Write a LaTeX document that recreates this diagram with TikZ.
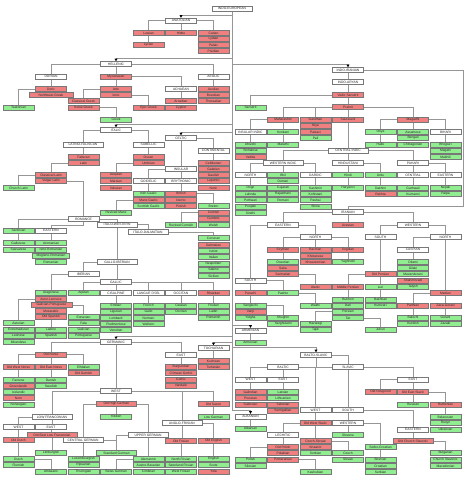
\documentclass[tikz,border=0pt]{standalone}
\usepackage{fontspec}
\setmainfont{Liberation Sans}
\usetikzlibrary{arrows.meta}
\definecolor{extred}{RGB}{240,128,128}
\definecolor{livgreen}{RGB}{144,238,144}
\definecolor{bordergray}{RGB}{120,120,120}
\definecolor{linegray}{RGB}{150,150,150}
\pgfdeclarelayer{back}\pgfdeclarelayer{bg}\pgfsetlayers{back,bg,main}
\newcommand\nbox[5]{\node[#1] (#2) at (#3,#4) {#5};}
\newcommand\cdn[2]{\draw[conn] (#1.south) -- (#1.south |- #2.north);}
\newcommand\clf[2]{\draw[conn] (#1.west) -| (#2.north);}
\newcommand\crt[2]{\draw[conn] (#1.east) -| (#2.north);}
\newcommand\famline[2]{\draw[conn,famarrow] (IE.south |- 0,#1) -| (#2.north);}
\begin{document}
\begin{tikzpicture}[x=1pt,y=-1pt,
 box/.style={draw=bordergray,line width=0.6pt,minimum width=31pt,minimum height=4.8pt,inner sep=0pt,font=\fontsize{3.3}{3.6}\selectfont,text=black!85},
 ext/.style={box,fill=extred},
 liv/.style={box,fill=livgreen},
 grp/.style={box,fill=white},
 wd/.style={minimum width=40pt},
 conn/.style={draw=linegray,line width=0.8pt},
 famarrow/.style={-{Triangle[length=2.6pt,width=2.8pt,color=black]}}]
\begin{pgfonlayer}{back}
\fill[white] (0,0) rectangle (464,479);
\end{pgfonlayer}
\useasboundingbox (0,0) rectangle (464,479);
% ---------------- ANATOLIAN
\nbox{grp,wd}{IE}{232}{8.5}{INDO-EUROPEAN}
\nbox{grp}{ANAT}{181}{20.5}{ANATOLIAN}
\nbox{ext}{luwian}{148.5}{33}{Luwian}
\nbox{ext}{hittite}{181}{33}{Hittite}
\nbox{ext}{carian}{213.5}{33}{Carian}
\nbox{ext}{lydian}{213.5}{39}{Lydian}
\nbox{ext}{palaic}{213.5}{45}{Palaic}
\nbox{ext}{pisidian}{213.5}{51}{Pisidian}
\nbox{ext}{lycian}{148.5}{45}{Lycian}
% ---------------- HELLENIC
\nbox{grp}{HEL}{116}{64}{HELLENIC}
\nbox{grp}{DOR}{51}{76.5}{DORIAN}
\nbox{ext}{myc}{116}{76.5}{Mycenaean}
\nbox{grp}{AEOL}{213.5}{76.5}{AEOLIC}
\nbox{ext}{doric}{51}{89}{Doric}
\nbox{ext,minimum width=44pt}{nwgreek}{51}{95}{Northwest Greek}
\nbox{ext}{attic}{116}{89}{Attic}
\nbox{ext}{ionic}{116}{95}{Ionic}
\nbox{grp}{ACH}{181}{89}{ACHAEAN}
\nbox{ext}{aeolian}{213.5}{89}{Aeolian}
\nbox{ext}{boeotian}{213.5}{95}{Boeotian}
\nbox{ext}{thessalian}{213.5}{101}{Thessalian}
\nbox{ext}{classical}{83.5}{101}{Classical Greek}
\nbox{ext}{koine}{83.5}{107.5}{Koine Greek}
\nbox{ext}{arcadian}{181}{101}{Arcadian}
\nbox{ext}{cypriot}{181}{107.5}{Cypriot}
\nbox{ext}{epic}{148.5}{107.5}{Epic Greek}
\nbox{liv}{tsakonian}{18.5}{107.5}{Tsakonian}
\nbox{liv}{greek}{116}{119.5}{Greek}
% ---------------- ITALIC
\nbox{grp}{ITA}{116}{130}{ITALIC}
\nbox{grp,wd}{LATF}{83}{144.5}{LATINO-FALISCAN}
\nbox{grp}{SAB}{148.5}{144.5}{SABELLIC}
\nbox{ext}{faliscan}{83.5}{157}{Faliscan}
\nbox{ext}{latin}{83.5}{163}{Latin}
\nbox{ext}{oscan}{148.5}{157}{Oscan}
\nbox{ext}{umbrian}{148.5}{163}{Umbrian}
\nbox{ext}{classlatin}{51}{175}{Classical Latin}
\nbox{ext}{vulglatin}{51}{181}{Vulgar Latin}
\nbox{ext}{aequian}{116}{175}{Aequian}
\nbox{ext}{marsian}{116}{181}{Marsian}
\nbox{ext}{volscian}{116}{188}{Volscian}
\nbox{liv}{churchlatin}{18.5}{188}{Church Latin}
% ---------------- CELTIC
\nbox{grp}{CEL}{181}{138}{CELTIC}
\nbox{grp}{CONT}{213.5}{150.5}{CONTINENTAL}
\nbox{grp}{INS}{181}{169}{INSULAR}
\nbox{ext}{celtiberian}{213.5}{163}{Celtiberian}
\nbox{ext}{galatian}{213.5}{169}{Galatian}
\nbox{ext}{gaulish}{213.5}{175}{Gaulish}
\nbox{ext}{lepontic}{213.5}{181}{Lepontic}
\nbox{ext}{noric}{213.5}{188}{Noric}
\nbox{grp}{GOID}{148.5}{181}{GOIDELIC}
\nbox{grp}{BRY}{181}{181}{BRYTHONIC}
\nbox{liv}{irish}{148.5}{193.5}{Irish Gaelic}
\nbox{ext}{manx}{148.5}{200}{Manx Gaelic}
\nbox{liv}{scottish}{148.5}{206}{Scottish Gaelic}
\nbox{liv}{revmanx}{116}{212.5}{Revived Manx}
\nbox{ext}{british}{181}{193.5}{British}
\nbox{ext}{ivernic}{181}{200}{Ivernic}
\nbox{ext}{pictish}{181}{206}{Pictish}
\nbox{liv}{breton}{213.5}{206}{Breton}
\nbox{ext}{cornish}{213.5}{212.5}{Cornish}
\nbox{ext}{cumbric}{213.5}{218.5}{Cumbric}
\nbox{liv}{welsh}{213.5}{225}{Welsh}
\nbox{liv}{revcornish}{181}{225}{Revived Cornish}
% ---------------- ROMANCE
\nbox{grp}{ROM}{83.5}{219}{ROMANCE}
\nbox{grp,wd}{ITW}{117}{224.5}{ITALO-WESTERN}
\nbox{grp,wd}{ITD}{148}{232}{ITALO-DALMATIAN}
\nbox{liv}{sardinian}{18.5}{230.5}{Sardinian}
\nbox{grp}{EASTR}{51}{230.5}{EASTERN}
\nbox{liv}{gallurese}{18.5}{243}{Gallurese}
\nbox{liv}{sassarese}{18.5}{249.5}{Sassarese}
\nbox{liv}{aromanian}{51}{243}{Aromanian}
\nbox{liv}{istrorom}{51}{249.5}{Istro-Romanian}
\nbox{liv,minimum width=37pt}{meglenorom}{51}{256}{Megleno-Romanian}
\nbox{liv}{romanian}{51}{262}{Romanian}
\nbox{liv}{corsican}{213.5}{238}{Corsican}
\nbox{ext}{dalmatian}{213.5}{245}{Dalmatian}
\nbox{liv}{istriot}{213.5}{251}{Istriot}
\nbox{liv}{italian}{213.5}{257}{Italian}
\nbox{liv}{neapolitan}{213.5}{263.5}{Neapolitan}
\nbox{liv}{sabino}{213.5}{269.5}{Sabino}
\nbox{liv}{sicilian}{213.5}{276}{Sicilian}
\nbox{grp,wd}{GIB}{117}{262}{GALLO-IBERIAN}
\nbox{grp}{IBR}{83.5}{274}{IBERIAN}
\nbox{grp}{GAL}{116}{282}{GALLIC}
\nbox{grp}{CIS}{116}{293}{CISALPINE}
\nbox{grp}{OIL}{148.5}{293}{LANGUE D'OÏL}
\nbox{grp}{OCC}{181}{293}{OCCITAN}
\nbox{ext}{rhaetian}{213.5}{293}{Rhaetian}
\nbox{liv}{arpitan}{83.5}{293}{Arpitan}
\nbox{liv}{aragonese}{51}{293}{Aragonese}
\nbox{ext}{asturleonese}{51}{299}{Astur-Leonese}
\nbox{ext,minimum width=41pt}{galport}{51.5}{305}{Galician-Portuguese}
\nbox{ext}{mozarabic}{51}{311}{Mozarabic}
\nbox{ext}{oldspanish}{51}{317}{Old Spanish}
\nbox{liv}{emilian}{116}{305.5}{Emilian}
\nbox{liv}{ligurian}{116}{311.5}{Ligurian}
\nbox{liv}{lombard}{116}{318}{Lombard}
\nbox{liv}{piedmontese}{116}{324}{Piedmontese}
\nbox{liv}{venetian}{116}{330}{Venetian}
\nbox{liv}{french}{148.5}{305.5}{French}
\nbox{liv}{gallo}{148.5}{311.5}{Gallo}
\nbox{liv}{norman}{148.5}{318}{Norman}
\nbox{liv}{walloon}{148.5}{324}{Walloon}
\nbox{liv}{catalan}{181}{305.5}{Catalan}
\nbox{liv}{occitanl}{181}{311.5}{Occitan}
\nbox{liv}{friulian}{213.5}{305.5}{Friulian}
\nbox{liv}{ladin}{213.5}{311.5}{Ladin}
\nbox{liv}{romansh}{213.5}{317.5}{Romansh}
\nbox{liv}{asturian}{18.5}{323}{Asturian}
\nbox{liv}{extremaduran}{18.5}{329.5}{Extremaduran}
\nbox{liv}{leonese}{18.5}{335.5}{Leonese}
\nbox{liv}{mirandese}{18.5}{342}{Mirandese}
\nbox{liv}{eonavian}{83.5}{317}{Eonavian}
\nbox{liv}{fala}{83.5}{323}{Fala}
\nbox{liv}{galician}{83.5}{329.5}{Galician}
\nbox{liv}{portuguese}{83.5}{335.5}{Portuguese}
\nbox{liv}{ladino}{51}{329.5}{Ladino}
\nbox{liv}{spanish}{51}{335.5}{Spanish}
% ---------------- GERMANIC
\nbox{grp}{GER}{116}{342}{GERMANIC}
\nbox{ext}{oldnorse}{51}{354.5}{Old Norse}
\nbox{grp}{EASTG}{181}{355}{EAST}
\nbox{grp}{TOCH}{213.5}{348}{TOCHARIAN}
\nbox{ext}{kuchean}{213.5}{361}{Kuchean}
\nbox{ext}{turfanian}{213.5}{367}{Turfanian}
\nbox{ext}{owns}{18.5}{367}{Old West Norse}
\nbox{ext}{oens}{51}{367}{Old East Norse}
\nbox{liv}{elfdalian}{83.5}{367}{Elfdalian}
\nbox{ext}{oldgutnish}{83.5}{373}{Old Gutnish}
\nbox{liv}{faroese}{18.5}{380}{Faroese}
\nbox{ext}{greenlandic}{18.5}{386}{Greenlandic}
\nbox{liv}{icelandic}{18.5}{392}{Icelandic}
\nbox{ext}{norn}{18.5}{398}{Norn}
\nbox{liv}{norwegian}{18.5}{404.5}{Norwegian}
\nbox{liv}{danish}{51}{380}{Danish}
\nbox{liv}{swedish}{51}{386}{Swedish}
\nbox{ext}{burgundian}{181}{367}{Burgundian}
\nbox{ext}{crimeangothic}{181}{373}{Crimean Gothic}
\nbox{ext}{gothic}{181}{379.5}{Gothic}
\nbox{ext}{vandalic}{181}{385.5}{Vandalic}
\nbox{grp}{WESTG}{116}{391}{WEST}
\nbox{ext,wd}{ohg}{116.5}{404}{Old High German}
\nbox{ext}{oldsaxon}{213.5}{404}{Old Saxon}
\nbox{liv}{lowgerman}{213.5}{417}{Low German}
\nbox{liv}{yiddish}{116}{416.5}{Yiddish}
\nbox{grp,wd}{LFR}{52}{417}{LOW FRANCONIAN}
\nbox{grp,wd}{ANGF}{182}{423}{ANGLO-FRISIAN}
\nbox{grp}{LFW}{18.5}{427}{WEST}
\nbox{grp}{LFE}{51}{427}{EAST}
\nbox{ext,minimum width=50pt}{oelf}{52}{435}{Old East Low Franconian}
\nbox{ext}{olddutch}{18.5}{440}{Old Dutch}
\nbox{grp,wd}{UPG}{148}{435}{UPPER GERMAN}
\nbox{grp,wd}{CNG}{83}{440}{CENTRAL GERMAN}
\nbox{ext}{oldfrisian}{181}{441}{Old Frisian}
\nbox{ext}{oldenglish}{213.5}{441}{Old English}
\nbox{liv,wd}{stdgerman}{116.5}{453}{Standard German}
\nbox{liv}{limburgish}{51}{453}{Limburgish}
\nbox{liv}{dutch}{18.5}{459}{Dutch}
\nbox{liv}{flemish}{18.5}{465}{Flemish}
\nbox{liv}{afrikaans}{51}{471.5}{Afrikaans}
\nbox{liv}{luxembourgish}{83.5}{459}{Luxembourgish}
\nbox{liv}{ripuarian}{83.5}{465}{Ripuarian}
\nbox{liv}{thuringian}{83.5}{471.5}{Thuringian}
\nbox{liv}{alemannic}{148.5}{459}{Alemannic}
\nbox{liv}{austrobav}{148.5}{465}{Austro-Bavarian}
\nbox{liv}{cimbrian}{148.5}{471.5}{Cimbrian}
\nbox{liv}{swissgerman}{116}{471.5}{Swiss German}
\nbox{liv}{northfrisian}{181}{459}{North Frisian}
\nbox{liv}{saterland}{181}{465}{Saterland Frisian}
\nbox{liv}{westfrisian}{181}{471.5}{West Frisian}
\nbox{liv}{english}{213.5}{459}{English}
\nbox{liv}{scots}{213.5}{465}{Scots}
\nbox{ext}{yola}{213.5}{471.5}{Yola}
% ---------------- INDO-IRANIAN
\nbox{grp}{INDIR}{348}{70}{INDO-IRANIAN}
\nbox{grp}{INDAR}{348}{82}{INDO-ARYAN}
\nbox{ext}{vedic}{348}{95}{Vedic Sanskrit}
\nbox{ext}{prakrit}{348}{107}{Prakrit}
\nbox{liv}{sanskrit}{250.5}{107.5}{Sanskrit}
\nbox{ext}{maharashtri}{283}{119.5}{Maharashtri}
\nbox{ext}{gandhari}{315.5}{119.5}{Gandhari}
\nbox{ext}{niya}{315.5}{125.5}{Niya}
\nbox{ext}{paisaci}{315.5}{132}{Paisaci}
\nbox{liv}{pali}{315.5}{138}{Pali}
\nbox{ext}{sauraseni}{348}{119.5}{Sauraseni}
\nbox{ext}{magadhi}{413}{119.5}{Magadhi}
\nbox{grp}{INSI}{250.5}{132}{INSULAR INDIC}
\nbox{liv}{konkani}{283}{132}{Konkani}
\nbox{liv}{marathi}{283}{144.5}{Marathi}
\nbox{liv}{dhivehi}{250.5}{144.5}{Dhivehi}
\nbox{liv}{sinhalese}{250.5}{150.5}{Sinhalese}
\nbox{ext}{vedda}{250.5}{157}{Vedda}
\nbox{liv}{oriya}{380.5}{132}{Oriya}
\nbox{liv}{halbi}{380.5}{144.5}{Halbi}
\nbox{liv}{assamese}{413}{132}{Assamese}
\nbox{liv}{bengali}{413}{138}{Bengali}
\nbox{liv}{chittagonian}{413}{144.5}{Chittagonian}
\nbox{grp}{BIH}{445.5}{132}{BIHARI}
\nbox{liv}{bhojpuri}{445.5}{144.5}{Bhojpuri}
\nbox{liv}{magahi}{445.5}{150.5}{Magahi}
\nbox{liv}{maithili}{445.5}{157}{Maithili}
\nbox{grp,wd}{CIND}{348}{150.5}{CENTRAL INDIC}
\nbox{grp,wd}{WIND}{283}{163}{WESTERN INDIC}
\nbox{grp}{HIND}{348}{163}{HINDUSTANI}
\nbox{grp}{PAH}{413}{163}{PAHARI}
\nbox{grp}{NORTHI}{250.5}{175}{NORTH}
\nbox{liv}{bhil}{283}{175}{Bhil}
\nbox{liv}{domari}{283}{181}{Domari}
\nbox{liv}{gujarati}{283}{188}{Gujarati}
\nbox{liv}{rajasthani}{283}{194}{Rajasthani}
\nbox{liv}{romani}{283}{200}{Romani}
\nbox{grp}{DARD}{315.5}{175}{DARDIC}
\nbox{liv}{hindi}{348}{175}{Hindi}
\nbox{liv}{urdu}{380.5}{175}{Urdu}
\nbox{grp}{CPAH}{413}{175}{CENTRAL}
\nbox{grp}{EPAH}{445.5}{175}{EASTERN}
\nbox{liv}{dogri}{250.5}{188}{Dogri}
\nbox{liv}{lahnda}{250.5}{194}{Lahnda}
\nbox{liv}{pothwari}{250.5}{200}{Pothwari}
\nbox{liv}{punjabi}{250.5}{206.5}{Punjabi}
\nbox{liv}{sindhi}{250.5}{213}{Sindhi}
\nbox{liv}{kashmiri}{315.5}{188}{Kashmiri}
\nbox{liv}{kohistani}{315.5}{194}{Kohistani}
\nbox{liv}{pashai}{315.5}{200}{Pashai}
\nbox{liv}{shina}{315.5}{206.5}{Shina}
\nbox{liv}{haryanvi}{348}{188}{Haryanvi}
\nbox{liv}{dakhini}{380.5}{188}{Dakhini}
\nbox{ext}{rekhta}{380.5}{194}{Rekhta}
\nbox{liv}{garhwali}{413}{188}{Garhwali}
\nbox{liv}{kumaoni}{413}{194}{Kumaoni}
\nbox{liv}{nepali}{445.5}{188}{Nepali}
\nbox{liv}{palpa}{445.5}{194}{Palpa}
% ---------------- IRANIAN
\coordinate (irancorner) at (463,206);
\nbox{grp}{IRAN}{348}{212}{IRANIAN}
\nbox{ext}{avestan}{348}{225}{Avestan}
\nbox{grp}{EIR}{283}{225}{EASTERN}
\nbox{grp}{WIR}{413}{225}{WESTERN}
\nbox{grp}{ENORTH}{315.5}{237}{NORTH}
\nbox{grp}{WSOUTH}{380.5}{237}{SOUTH}
\nbox{grp}{WNORTH}{445.5}{237}{NORTH}
\nbox{ext}{scythian}{283}{249.5}{Scythian}
\nbox{ext}{bactrian}{315.5}{249.5}{Bactrian}
\nbox{ext}{sogdian}{348}{249.5}{Sogdian}
\nbox{ext}{khotanese}{315.5}{256}{Khotanese}
\nbox{ext}{khwarezmian}{315.5}{262}{Khwarezmian}
\nbox{liv}{ossetian}{283}{262}{Ossetian}
\nbox{ext}{saka}{283}{268}{Saka}
\nbox{ext}{sarmatian}{283}{274}{Sarmatian}
\nbox{liv}{yaghnobi}{348}{262}{Yaghnobi}
\nbox{grp}{CASP}{413}{249.5}{CASPIAN}
\nbox{liv}{dilami}{413}{262}{Dilami}
\nbox{liv}{gilaki}{413}{268}{Gilaki}
\nbox{liv}{mazanderani}{413}{274}{Mazanderani}
\nbox{ext}{shahmirzadi}{413}{280.5}{Shahmirzadi}
\nbox{liv}{talysh}{413}{287}{Talysh}
\nbox{ext}{oldpersian}{380.5}{274}{Old Persian}
\nbox{grp}{ESOUTH}{250.5}{280.5}{SOUTH}
\nbox{ext}{alanic}{315.5}{287}{Alanic}
\nbox{ext}{midpersian}{348}{287}{Middle Persian}
\nbox{liv}{luri}{380.5}{287}{Luri}
\nbox{ext}{median}{445.5}{293}{Median}
\nbox{ext}{parachi}{250.5}{293}{Parachi}
\nbox{liv}{pashto}{283}{293}{Pashto}
\nbox{liv}{bukhori}{348}{299.5}{Bukhori}
\nbox{liv}{dari}{348}{305.5}{Dari}
\nbox{liv}{persian}{348}{311.5}{Persian}
\nbox{liv}{tat}{348}{318}{Tat}
\nbox{liv}{bakhtiari}{380.5}{299.5}{Bakhtiari}
\nbox{liv}{kumzari}{380.5}{305.5}{Kumzari}
\nbox{liv}{wakhi}{315.5}{305.5}{Wakhi}
\nbox{liv}{sanglechi}{250.5}{305.5}{Sanglechi}
\nbox{ext}{vanji}{250.5}{311.5}{Vanji}
\nbox{liv}{yidgha}{250.5}{317.5}{Yidgha}
\nbox{liv}{shughni}{283}{317.5}{Shughni}
\nbox{liv}{yazghulami}{283}{323.5}{Yazghulami}
\nbox{ext}{parthian}{413}{305.5}{Parthian}
\nbox{ext}{zazagorani}{445.5}{305.5}{Zaza-Gorani}
\nbox{liv}{balochi}{413}{317.5}{Balochi}
\nbox{liv}{kurdish}{413}{323.5}{Kurdish}
\nbox{liv}{gorani}{445.5}{317.5}{Gorani}
\nbox{liv}{zazaki}{445.5}{323.5}{Zazaki}
\nbox{liv}{hazaragi}{315.5}{323.5}{Hazaragi}
\nbox{liv}{tajik}{315.5}{329.5}{Tajik}
\nbox{liv}{juhuri}{380.5}{329.5}{Juhuri}
% ---------------- ARMENIAN
\nbox{grp}{ARM}{250.5}{330.5}{ARMENIAN}
\nbox{liv}{armenian}{250.5}{342.5}{Armenian}
% ---------------- BALTO-SLAVIC
\nbox{grp}{BS}{316}{355}{BALTO-SLAVIC}
\nbox{grp}{BALT}{283}{367}{BALTIC}
\nbox{grp}{SLAV}{348}{367}{SLAVIC}
\nbox{grp}{BWEST}{250.5}{379.5}{WEST}
\nbox{grp}{BEAST}{283}{379.5}{EAST}
\nbox{grp}{SEAST}{413}{379.5}{EAST}
\nbox{ext}{galindian}{250.5}{392}{Galindian}
\nbox{ext}{prussian}{250.5}{398}{Prussian}
\nbox{ext}{sudovian}{250.5}{404.5}{Sudovian}
\nbox{liv}{latvian}{283}{392}{Latvian}
\nbox{liv}{lithuanian}{283}{398}{Lithuanian}
\nbox{ext}{selonian}{283}{404.5}{Selonian}
\nbox{ext}{semigallian}{283}{410.5}{Semigallian}
\nbox{ext}{oldnovgorod}{380.5}{392}{Old Novgorod}
\nbox{ext}{oldeastslavic}{413}{392}{Old East Slavic}
\nbox{liv}{russian}{413}{404.5}{Russian}
\nbox{ext}{ruthenian}{445.5}{404.5}{Ruthenian}
\nbox{liv}{belarusian}{445.5}{417}{Belarusian}
\nbox{liv}{rusyn}{445.5}{423}{Rusyn}
\nbox{liv}{ukrainian}{445.5}{429.5}{Ukrainian}
\nbox{grp}{SWEST}{315.5}{410}{WEST}
\nbox{grp}{SSOUTH}{348}{410}{SOUTH}
\nbox{grp}{ALB}{250.5}{416.5}{ALBANIAN}
\nbox{liv}{albanian}{250.5}{428.5}{Albanian}
\nbox{ext}{oldwestslavic}{315.5}{423}{Old West Slavic}
\nbox{grp}{SWESTERN}{348}{423}{WESTERN}
\nbox{grp}{SEASTERN}{413}{429.5}{EASTERN}
\nbox{grp}{LECH}{283}{435}{LECHITIC}
\nbox{liv}{slovene}{348}{435}{Slovene}
\nbox{ext}{czechslovak}{315.5}{441}{Czech-Slovak}
\nbox{ext}{knaanic}{315.5}{447}{Knaanic}
\nbox{liv}{sorbian}{315.5}{453}{Sorbian}
\nbox{ext,wd}{ocs}{413}{441}{Old Church Slavonic}
\nbox{ext}{oldpolish}{283}{447}{Old Polish}
\nbox{ext}{polabian}{283}{453}{Polabian}
\nbox{ext}{pomeranian}{283}{459.5}{Pomeranian}
\nbox{liv}{serbocroatian}{380.5}{447}{Serbo-Croatian}
\nbox{liv}{czech}{348}{453}{Czech}
\nbox{liv}{slovak}{348}{459.5}{Slovak}
\nbox{liv}{bulgarian}{445.5}{453}{Bulgarian}
\nbox{liv}{churchslavonic}{445.5}{459.5}{Church Slavonic}
\nbox{liv}{macedonian}{445.5}{466}{Macedonian}
\nbox{liv}{polish}{250.5}{459.5}{Polish}
\nbox{liv}{silesian}{250.5}{466}{Silesian}
\nbox{liv}{bosnian}{380.5}{459.5}{Bosnian}
\nbox{liv}{croatian}{380.5}{466}{Croatian}
\nbox{liv}{serbian}{380.5}{472}{Serbian}
\nbox{liv}{kashubian}{315.5}{472}{Kashubian}
\coordinate (trunkend) at (232,410);
% ================= CONNECTORS
\begin{pgfonlayer}{bg}
\draw[conn] (IE.south) -- (trunkend);
\draw[conn,famarrow] (trunkend) -| (ALB.north);
\famline{15}{ANAT}
\famline{58}{HEL}
\famline{64}{INDIR}
\famline{124}{ITA}
\famline{132}{CEL}
\famline{325}{ARM}
\famline{336}{GER}
\famline{342}{TOCH}
\famline{347}{BS}
% anatolian
\clf{ANAT}{luwian}\cdn{ANAT}{hittite}\crt{ANAT}{carian}\cdn{luwian}{lycian}
% hellenic
\clf{HEL}{DOR}\cdn{HEL}{myc}\crt{HEL}{AEOL}
\cdn{DOR}{doric}\clf{doric}{tsakonian}
\cdn{myc}{attic}\crt{myc}{ACH}
\clf{attic}{classical}\crt{ionic}{epic}\crt{koine}{greek}
\cdn{AEOL}{aeolian}\cdn{ACH}{arcadian}
% italic
\clf{ITA}{LATF}\crt{ITA}{SAB}
\cdn{LATF}{faliscan}\clf{latin}{classlatin}\clf{classlatin}{churchlatin}\crt{vulglatin}{ROM}
\cdn{SAB}{oscan}\clf{umbrian}{aequian}
% celtic
\crt{CEL}{CONT}\cdn{CEL}{INS}\cdn{CONT}{celtiberian}
\clf{INS}{GOID}\cdn{INS}{BRY}
\cdn{GOID}{irish}\clf{manx}{revmanx}
\cdn{BRY}{british}\crt{british}{breton}\clf{cornish}{revcornish}
% romance
\clf{ROM}{sardinian}
\draw[conn] (ROM.south) -- ++(0,3.5) -| (EASTR.north);
\crt{ROM}{ITW}\crt{ITW}{ITD}\cdn{ITW}{GIB}
\cdn{sardinian}{gallurese}\cdn{EASTR}{aromanian}\crt{ITD}{corsican}
\clf{GIB}{IBR}\cdn{GIB}{GAL}
\clf{IBR}{aragonese}\clf{GAL}{arpitan}\cdn{GAL}{CIS}
\crt{GAL}{OIL}\crt{GAL}{OCC}\crt{GAL}{rhaetian}
\cdn{CIS}{emilian}\cdn{OIL}{french}\cdn{OCC}{catalan}\cdn{rhaetian}{friulian}
\clf{asturleonese}{asturian}\crt{galport}{eonavian}\cdn{oldspanish}{ladino}
% germanic
\clf{GER}{oldnorse}\cdn{GER}{WESTG}\crt{GER}{EASTG}
\clf{oldnorse}{owns}\cdn{oldnorse}{oens}\crt{oldnorse}{elfdalian}
\cdn{owns}{faroese}\cdn{oens}{danish}
\cdn{EASTG}{burgundian}\cdn{TOCH}{kuchean}
\clf{WESTG}{LFR}\cdn{WESTG}{ohg}\crt{WESTG}{ANGF}\crt{WESTG}{oldsaxon}
\cdn{oldsaxon}{lowgerman}\cdn{ohg}{yiddish}\clf{ohg}{CNG}\crt{ohg}{UPG}
\clf{LFR}{LFW}\cdn{LFR}{LFE}
\cdn{LFW}{olddutch}\cdn{LFE}{oelf}\cdn{oelf}{limburgish}
\cdn{olddutch}{dutch}\crt{dutch}{afrikaans}
\cdn{CNG}{luxembourgish}\crt{CNG}{stdgerman}\clf{UPG}{stdgerman}
\cdn{UPG}{alemannic}\clf{alemannic}{swissgerman}
\cdn{ANGF}{oldfrisian}\crt{ANGF}{oldenglish}
\cdn{oldfrisian}{northfrisian}\cdn{oldenglish}{english}
% indo-aryan
\cdn{INDIR}{INDAR}\cdn{INDAR}{vedic}\cdn{vedic}{prakrit}\clf{vedic}{sanskrit}
\cdn{prakrit}{sauraseni}\clf{prakrit}{maharashtri}\clf{prakrit}{gandhari}\crt{prakrit}{magadhi}
\clf{maharashtri}{INSI}\cdn{maharashtri}{konkani}\cdn{konkani}{marathi}
\cdn{INSI}{dhivehi}
\clf{magadhi}{oriya}\cdn{magadhi}{assamese}\crt{magadhi}{BIH}
\cdn{oriya}{halbi}\cdn{BIH}{bhojpuri}
\cdn{sauraseni}{CIND}\clf{CIND}{WIND}\cdn{CIND}{HIND}\crt{CIND}{PAH}
\clf{WIND}{NORTHI}\cdn{WIND}{bhil}\crt{WIND}{DARD}
\cdn{NORTHI}{dogri}\cdn{DARD}{kashmiri}
\cdn{HIND}{hindi}\crt{HIND}{urdu}\cdn{hindi}{haryanvi}\cdn{urdu}{dakhini}
\cdn{PAH}{CPAH}\crt{PAH}{EPAH}\cdn{CPAH}{garhwali}\cdn{EPAH}{nepali}
% iranian
\draw[conn] (INDIR.east) -| (irancorner) -| (IRAN.north);
\cdn{IRAN}{avestan}\clf{IRAN}{EIR}\crt{IRAN}{WIR}
\crt{EIR}{ENORTH}\clf{EIR}{ESOUTH}
\clf{ENORTH}{scythian}\cdn{ENORTH}{bactrian}\crt{ENORTH}{sogdian}
\cdn{scythian}{ossetian}\crt{sarmatian}{alanic}\cdn{sogdian}{yaghnobi}
\cdn{ESOUTH}{parachi}\crt{ESOUTH}{pashto}\crt{pashto}{wakhi}
\cdn{parachi}{sanglechi}\crt{sanglechi}{shughni}
\clf{WIR}{WSOUTH}\crt{WIR}{WNORTH}
\clf{WNORTH}{CASP}\cdn{WNORTH}{median}\cdn{CASP}{dilami}
\cdn{WSOUTH}{oldpersian}\clf{oldpersian}{midpersian}\cdn{oldpersian}{luri}
\cdn{midpersian}{bukhori}\cdn{luri}{bakhtiari}
\clf{persian}{hazaragi}\crt{tat}{juhuri}
\clf{median}{parthian}\cdn{median}{zazagorani}
\cdn{parthian}{balochi}\cdn{zazagorani}{gorani}
% armenian
\cdn{ARM}{armenian}
% balto-slavic
\crt{BS}{SLAV}
\draw[conn] (BS.south) |- (BALT.east);
\clf{BALT}{BWEST}\cdn{BALT}{BEAST}
\cdn{BWEST}{galindian}\cdn{BEAST}{latvian}
\clf{SLAV}{SWEST}\cdn{SLAV}{SSOUTH}\crt{SLAV}{SEAST}
\clf{SEAST}{oldnovgorod}\cdn{SEAST}{oldeastslavic}
\cdn{oldeastslavic}{russian}\crt{oldeastslavic}{ruthenian}\cdn{ruthenian}{belarusian}
\cdn{SWEST}{oldwestslavic}\clf{oldwestslavic}{LECH}\cdn{oldwestslavic}{czechslovak}
\cdn{LECH}{oldpolish}\clf{oldpolish}{polish}\crt{pomeranian}{kashubian}
\crt{czechslovak}{czech}
\cdn{SSOUTH}{SWESTERN}\crt{SSOUTH}{SEASTERN}
\cdn{SWESTERN}{slovene}\crt{SWESTERN}{serbocroatian}\cdn{serbocroatian}{bosnian}
\cdn{SEASTERN}{ocs}\crt{ocs}{bulgarian}
% albanian
\cdn{ALB}{albanian}
\end{pgfonlayer}
\end{tikzpicture}
\end{document}
